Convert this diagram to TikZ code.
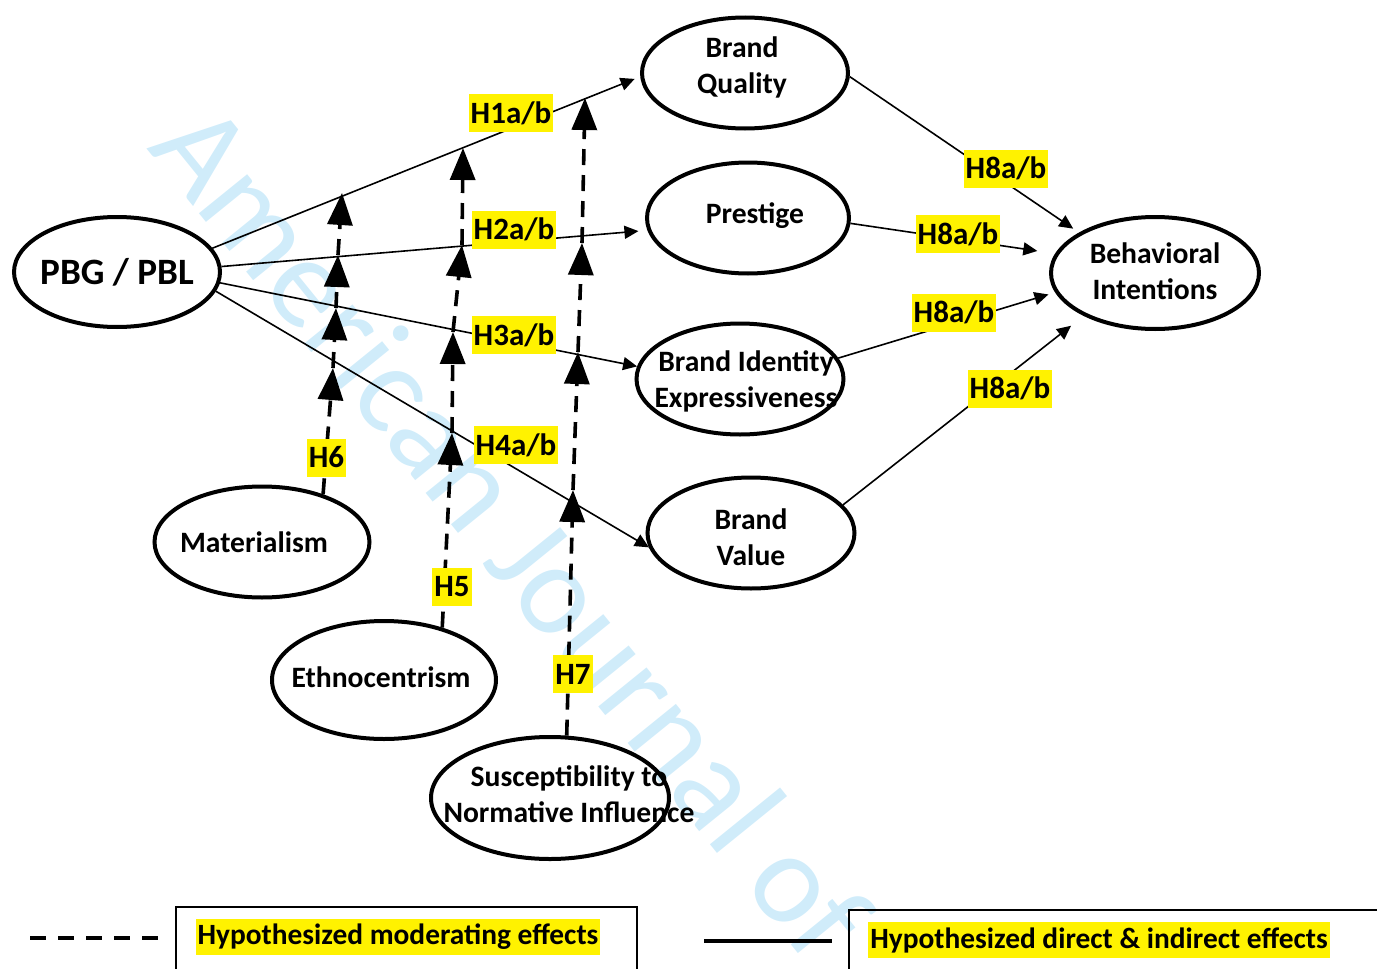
\documentclass[tikz,border=0pt]{standalone}
\usepackage{fontspec}
\setmainfont{Carlito}
\usetikzlibrary{shapes.geometric,arrows.meta}
\definecolor{wm}{RGB}{208,236,250}
\begin{document}
\begin{tikzpicture}[x=0.5pt,y=-0.5pt,
  ell/.style={ellipse, draw, line width=2pt, inner sep=0pt},
  lbl/.style={font=\fontsize{14.8}{18}\selectfont\bfseries, align=center},
  conn/.style={line width=0.8pt, -{Triangle[length=7pt,width=6.5pt]}},
  hyp/.style={fill=yellow, font=\fontsize{15.5}{18}\selectfont\bfseries, inner xsep=1pt, inner ysep=0pt, minimum height=19pt},
  leg/.style={hyp, font=\fontsize{14.7}{18}\selectfont\bfseries, minimum height=18pt},
  modseg/.style={line width=1.8pt, dash pattern=on 8pt off 5pt, -{Triangle[length=16pt,width=12.5pt]}},
]
\useasboundingbox (0,0) rectangle (1377,969);

% watermark
\node[rotate=-51, text=wm, font=\fontsize{65}{65}\selectfont, inner sep=0pt] (wmk) at (513,530) {American Journal of};

% constructs
\node[ell, minimum width=103pt, minimum height=55pt, label={[lbl, font=\fontsize{18.6}{22}\selectfont\bfseries]center:PBG / PBL}] (pbg) at (117,272) {};
\node[ell, minimum width=103pt, minimum height=55.5pt, label={[lbl, yshift=3pt, xshift=-1.5pt]center:Brand\\Quality}] (bq) at (745,73) {};
\node[ell, minimum width=101pt, minimum height=55.5pt, label={[lbl, xshift=3.5pt, yshift=1pt]center:Prestige}] (pres) at (748,218) {};
\node[ell, minimum width=103.5pt, minimum height=55.5pt, label={[lbl, xshift=3pt, yshift=-1pt]center:Brand Identity\\Expressiveness}] (bie) at (740,379) {};
\node[ell, minimum width=103.5pt, minimum height=55.5pt, label={[lbl, yshift=-2pt]center:Brand\\Value}] (bv) at (751,533) {};
\node[ell, minimum width=104pt, minimum height=56pt, label={[lbl, yshift=1pt]center:Behavioral\\Intentions}] (bi) at (1155,273) {};
\node[ell, minimum width=107.5pt, minimum height=55.5pt, label={[lbl, xshift=-4pt]center:Materialism}] (mat) at (262,542) {};
\node[ell, minimum width=112pt, minimum height=59pt, label={[lbl, xshift=-1.5pt, yshift=1.5pt]center:Ethnocentrism}] (eth) at (384,680) {};
\node[ell, minimum width=119pt, minimum height=61pt, label={[lbl, xshift=9.5pt, yshift=2pt]center:Susceptibility to\\Normative Influence}] (sus) at (550,798) {};

% direct effects
\draw[conn, shorten >=3pt] (pbg.14) -- (bq.182);
\draw[conn, shorten >=4.5pt] (pbg.3) -- (pres.187);
\draw[conn] (pbg.-6) -- (bie.173);
\draw[conn] (pbg.-11.5) -- (bv.188);
\draw[conn, shorten >=3.5pt] (bq.-2) -- (bi.152);
\draw[conn, shorten >=9pt] (pres.-3) -- (bi.169);
\draw[conn, shorten >=3.5pt] (bie.12) -- (bi.191);
\draw[conn, shorten >=8pt] (bv.17.7) -- (bi.211);

% moderating effects
\coordinate (h6a) at (333,368); \coordinate (h6b) at (336,308);
\coordinate (h6c) at (338,255); \coordinate (h6d) at (342,193);
\coordinate (h5a) at (452,433); \coordinate (h5b) at (453,332);
\coordinate (h5c) at (462,245); \coordinate (h5d) at (463,148);
\coordinate (h7a) at (573,490); \coordinate (h7b) at (578,352);
\coordinate (h7c) at (582,243); \coordinate (h7d) at (585,98);
\draw[modseg] (mat.38) -- (h6a);
\draw[modseg] (h6a) -- (h6b);
\draw[modseg] (h6b) -- (h6c);
\draw[modseg] (h6c) -- (h6d);
\draw[modseg] (eth.42) -- (h5a);
\draw[modseg] (h5a) -- (h5b);
\draw[modseg] (h5b) -- (h5c);
\draw[modseg] (h5c) -- (h5d);
\draw[modseg] (sus.75) -- (h7a);
\draw[modseg] (h7a) -- (h7b);
\draw[modseg] (h7b) -- (h7c);
\draw[modseg] (h7c) -- (h7d);

% hypothesis labels
\node[hyp] (l1) at (511,113) {H1a/b};
\node[hyp] (l2) at (514,229.5) {H2a/b};
\node[hyp] (l3) at (514,335) {H3a/b};
\node[hyp] (l4) at (516,445) {H4a/b};
\node[hyp] (l6) at (326.5,457.5) {H6};
\node[hyp] (l5) at (452,587) {H5};
\node[hyp] (l7) at (573,674) {H7};
\node[hyp] (l8a) at (1006,168.5) {H8a/b};
\node[hyp] (l8b) at (958,234) {H8a/b};
\node[hyp] (l8c) at (954,312.5) {H8a/b};
\node[hyp] (l8d) at (1010,388.5) {H8a/b};

% legend
\draw[line width=1pt] (176,990) -- (176,907) -- (637,907) -- (637,990);
\draw[line width=1pt] (849,990) -- (849,910) -- (1390,910);
\coordinate (lga) at (30,938); \coordinate (lgb) at (158,938);
\coordinate (lgc) at (704,941); \coordinate (lgd) at (832,941);
\draw[line width=2.2pt, dash pattern=on 8pt off 6pt] (lga) -- (lgb);
\draw[line width=2.2pt] (lgc) -- (lgd);
\node[leg] (legm) at (398,937) {Hypothesized moderating effects};
\node[leg] (legd) at (1099,940) {Hypothesized direct \& indirect effects};
\end{tikzpicture}
\end{document}
